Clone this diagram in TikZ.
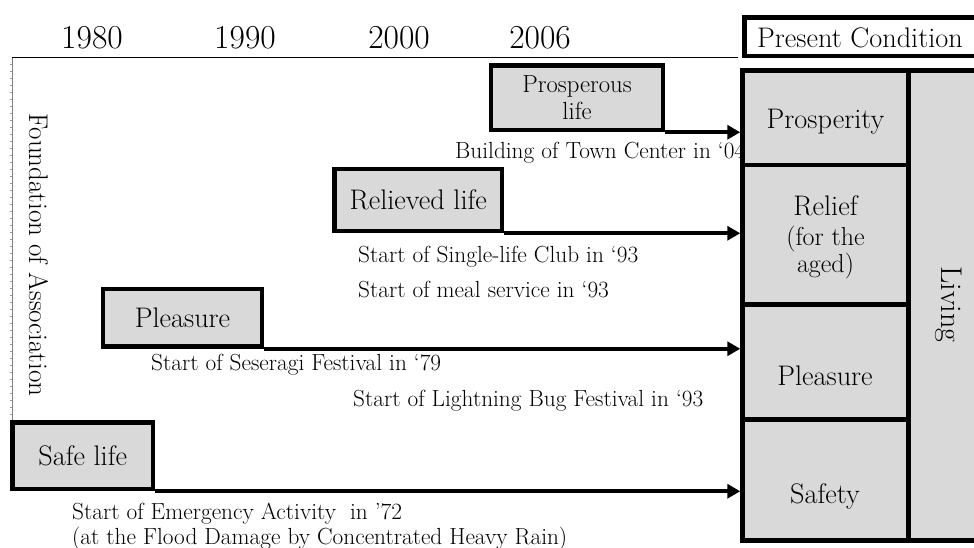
\documentclass[tikz,border=0pt]{standalone}
\usepackage{fontspec}
\usetikzlibrary{arrows.meta}
\definecolor{boxgray}{HTML}{D9D9D9}

\begin{document}
\begin{tikzpicture}[x=1pt,y=-1pt,
    lifebox/.style={draw,line width=4.5pt,fill=boxgray,inner sep=0pt,align=center,font=\fontsize{28.3}{30}\selectfont},
    cell/.style={draw,line width=4.5pt,fill=boxgray,inner sep=0pt,minimum width=166pt},
    celltext/.style={anchor=base,inner sep=0pt,align=center,font=\fontsize{28.3}{30}\selectfont},
    event/.style={anchor=base west,inner sep=0pt,font=\fontsize{23.3}{26}\selectfont},
    year/.style={anchor=base,inner sep=0pt,font=\fontsize{33.5}{36}\selectfont},
    goal/.style={line width=4pt,-{Triangle[length=13pt,width=14pt]}}]

    \useasboundingbox (0,0) rectangle (974,547);

    % Years
    \node[year] (y1980) at (92,48) {1980};
    \node[year] (y1990) at (245,48) {1990};
    \node[year] (y2000) at (399,48) {2000};
    \node[year] (y2006) at (540,48) {2006};

    % Time axis
    \draw[line width=1.8pt] (12,57.5) -- (738,57.5);
    \draw[gray,line width=1pt] (12,57.5) -- (12,423);
    \foreach \t in {64,71,...,420} {
        \draw[gray!80,line width=0.6pt] (9.5,\t) -- (12,\t);   % small tick
    }
    \node[rotate=-90,anchor=base,inner sep=0pt,font=\fontsize{27}{29}\selectfont] (found) at (29,255) {Foundation of Association};

    % Present condition column
    \node[draw,line width=4.5pt,fill=white,minimum width=245.5pt,minimum height=38.5pt] (pres) at (867.25,36.75) {};
    \node[anchor=base,inner sep=0pt,font=\fontsize{28.3}{30}\selectfont] (prestext) at (860,47) {Present Condition};

    \node[draw,line width=4.5pt,fill=boxgray,minimum width=76.5pt,minimum height=470pt] (living) at (946.75,305.5) {};
    \node[rotate=-90,anchor=base,inner sep=0pt,font=\fontsize{30}{32}\selectfont] (livtext) at (941,304.5) {Living};

    \node[cell,minimum height=94.5pt] (prosp) at (825.5,117.75) {};
    \node[cell,minimum height=139.5pt] (relief) at (825.5,234.75) {};
    \node[cell,minimum height=115pt] (pleas) at (825.5,362) {};
    \node[cell,minimum height=121pt] (safety) at (825.5,480) {};

    \node[celltext] (prosptext) at (825.5,128) {Prosperity};
    \node[celltext] (relieftext) at (825.5,215) {Relief};
    \node[celltext,font=\fontsize{26}{27}\selectfont] (agedtext) at (825.5,272) {(for the\\aged)};
    \node[celltext] (pleastext) at (825,385) {Pleasure};
    \node[celltext] (safetytext) at (825,503) {Safety};

    % Kinds of life
    \node[lifebox,minimum width=172pt,minimum height=64.5pt,font=\fontsize{24.7}{27}\selectfont] (plife) at (577,97.75) {Prosperous\\life};
    \node[lifebox,minimum width=167.5pt,minimum height=62pt] (rlife) at (418.25,200) {Relieved life};
    \node[lifebox,minimum width=159pt,minimum height=57.5pt] (pllife) at (182.5,317.75) {Pleasure};
    \node[lifebox,minimum width=140.5pt,minimum height=66.5pt] (slife) at (82.75,455.75) {Safe life};

    % Arrows to present condition
    \draw[goal] (plife.south east) -- (plife.south east -| prosp.west);
    \draw[goal] (rlife.south east) -- (rlife.south east -| relief.west);
    \draw[goal] (pllife.south east) -- (pllife.south east -| pleas.west);
    \draw[goal] (slife.south east) -- (slife.south east -| safety.west);

    % Events
    \node[event] (town) at (455,158) {Building of Town Center in `04};
    \node[event] (club) at (358,262) {Start of Single-life Club in `93};
    \node[event] (meal) at (358,297) {Start of meal service in `93};
    \node[event] (sese) at (151,370) {Start of Seseragi Festival in `79};
    \node[event] (bug) at (353,406) {Start of Lightning Bug Festival in `93};
    \node[event] (emerg) at (72,519) {Start of Emergency Activity\ \ in '72};
    \node[event] (flood) at (72,544) {(at the Flood Damage by Concentrated Heavy Rain)};

\end{tikzpicture}
\end{document}
